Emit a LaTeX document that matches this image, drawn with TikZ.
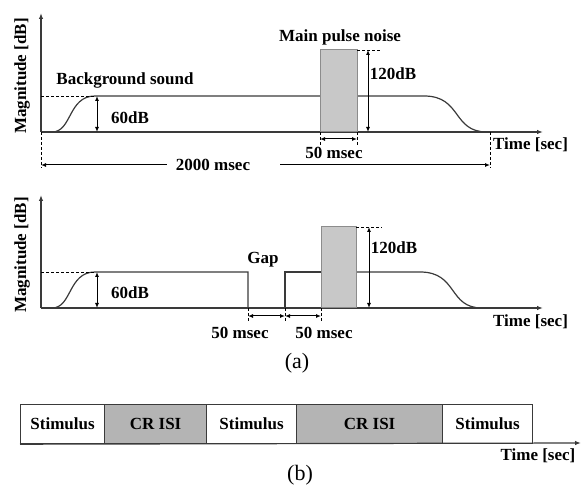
\documentclass[tikz,border=0pt]{standalone}
\usepackage{fontspec}
\setmainfont{Liberation Serif}
\usetikzlibrary{arrows.meta}
\definecolor{ln}{HTML}{3A3A3A}
\definecolor{pulse}{HTML}{C8C8C8}
\definecolor{pulseedge}{HTML}{8C8C8C}
\definecolor{isi}{HTML}{B4B4B4}
\begin{document}
\begin{tikzpicture}[x=1pt,y=-1pt,
  lbl/.style={font=\fontsize{17}{19}\selectfont\bfseries, inner sep=1pt},
  captext/.style={font=\fontsize{22}{24}\selectfont, inner sep=1pt},
  sig/.style={draw=ln, line width=1.2pt},
  axisline/.style={draw=ln, line width=1.2pt, -{Latex[length=6pt,width=4.5pt]}},
  dim/.style={draw=black, line width=1pt, {Latex[length=5pt,width=4pt]}-{Latex[length=5pt,width=4pt]}},
  dimL/.style={draw=black, line width=1pt, {Latex[length=5pt,width=4pt]}-},
  dimR/.style={draw=black, line width=1pt, -{Latex[length=5pt,width=4pt]}},
  guide/.style={draw=black, line width=0.9pt, dash pattern=on 3pt off 2pt},
  pulsebox/.style={draw=pulseedge, fill=pulse, line width=1pt},
  seg/.style={draw=ln, line width=1.2pt, minimum height=39pt, inner sep=0pt, anchor=north west, font=\fontsize{17}{19}\selectfont\bfseries}
]
\useasboundingbox (0,0) rectangle (582,489);

% ================= (a) top =================
\coordinate (o1) at (41,132);
\coordinate (ytop1) at (41,13);
\coordinate (xend1) at (543,132);
\draw[axisline] (o1) -- (ytop1);
\draw[axisline] (o1) -- (xend1);
\node[lbl, rotate=90] (mag1) at (22,76) {Magnitude [dB]};

% signal
\draw[sig] (o1) -- (52,132) .. controls (72,132) and (68,96) .. (95,96) -- (320,96);
\draw[sig] (357,96) -- (424,96) .. controls (462,96) and (452,132) .. (487,132);
\draw[pulsebox] (320,50) rectangle (357,132);
\coordinate (pTL1) at (320,50);
\coordinate (pTR1) at (357,50);

% guides
\coordinate (lv1) at (95,96);
\draw[guide] (o1 |- lv1) -- (lv1);
\coordinate (pk1) at (381,50);
\draw[guide] (pTR1) -- (pk1);
\coordinate (d1a) at (41,168);
\draw[guide] (o1) -- (d1a);
\coordinate (e1) at (490,132);
\coordinate (e1b) at (490,168);
\draw[guide] (e1) -- (e1b);
\coordinate (t1a) at (320,146);
\coordinate (t1b) at (357,146);
\draw[guide] (320,132) -- (t1a);
\draw[guide] (357,132) -- (t1b);

% dimensions
\coordinate (a60t) at (97,96);
\coordinate (a60b) at (97,132);
\draw[dim] (a60t) -- (a60b);
\node[lbl] (l60a) at (130,118) {60dB};
\coordinate (a120t) at (368,50);
\coordinate (a120b) at (368,132);
\draw[dim] (a120t) -- (a120b);
\node[lbl] (l120a) at (393,74) {120dB};
\coordinate (m1a) at (320,139);
\coordinate (m1b) at (357,139);
\draw[dim] (m1a) -- (m1b);
\node[lbl] (l50a) at (334,153) {50 msec};

\coordinate (s2a) at (41,165);
\coordinate (s2b) at (167,165);
\coordinate (s2c) at (280,165);
\coordinate (s2d) at (490,165);
\draw[dimL] (s2a) -- (s2b);
\draw[dimR] (s2c) -- (s2d);
\node[lbl] (l2000) at (213,165) {2000 msec};

\node[lbl] (bg) at (125,80) {Background sound};
\node[lbl] (mpn) at (340,37) {Main pulse noise};
\node[lbl, anchor=west] (time1) at (492,145) {Time [sec]};

% ================= (a) bottom =================
\coordinate (o2) at (41,308);
\coordinate (ytop2) at (41,195);
\coordinate (xend2) at (543,308);
\draw[axisline] (o2) -- (ytop2);
\draw[axisline] (o2) -- (xend2);
\node[lbl, rotate=90] (mag2) at (22,255) {Magnitude [dB]};

\draw[sig] (o2) -- (52,308) .. controls (72,308) and (68,272) .. (95,272) -- (248,272) -- (248,308);
\draw[sig] (285,308) -- (285,272) -- (321,272);
\draw[sig] (356,272) -- (420,272) .. controls (458,272) and (448,308) .. (482,308);
\draw[pulsebox] (321,227) rectangle (356,308);
\coordinate (pTR2) at (356,227);

\coordinate (lv2) at (95,272);
\draw[guide] (o2 |- lv2) -- (lv2);
\coordinate (pk2) at (382,227);
\draw[guide] (pTR2) -- (pk2);
\foreach \xx/\nm in {248/g1,285/g2,321/g3}{
  \coordinate (\nm) at (\xx,321);
  \draw[guide] (\xx,308) -- (\nm);
}

\coordinate (b60t) at (97,272);
\coordinate (b60b) at (97,308);
\draw[dim] (b60t) -- (b60b);
\node[lbl] (l60b) at (130,293) {60dB};
\coordinate (b120t) at (369,227);
\coordinate (b120b) at (369,308);
\draw[dim] (b120t) -- (b120b);
\node[lbl] (l120b) at (394,248) {120dB};

\coordinate (q1) at (248,316);
\coordinate (q2) at (285,316);
\coordinate (q3) at (321,316);
\draw[dim] (q1) -- (q2);
\draw[dim] (q2) -- (q3);
\node[lbl] (l50b) at (240,333) {50 msec};
\node[lbl] (l50c) at (324,333) {50 msec};
\node[lbl] (gap) at (263,260) {Gap};
\node[lbl, anchor=west] (time2) at (492,322) {Time [sec]};

\node[captext] (capa) at (297,363) {(a)};

% ================= (b) =================
\node[seg, minimum width=84pt, fill=white] (s1) at (20,404) {Stimulus};
\node[seg, minimum width=102pt, fill=isi] (c1) at (104,404) {CR ISI};
\node[seg, minimum width=90pt, fill=white] (s2) at (206,404) {Stimulus};
\node[seg, minimum width=146pt, fill=isi] (c2) at (296,404) {CR ISI};
\node[seg, minimum width=90pt, fill=white] (s3) at (442,404) {Stimulus};
\coordinate (bend) at (581,443);
\draw[axisline] (s1.south west) -- (bend);
\node[lbl] (time3) at (538,456) {Time [sec]};
\node[captext] (capb) at (300,475) {(b)};
\end{tikzpicture}
\end{document}
